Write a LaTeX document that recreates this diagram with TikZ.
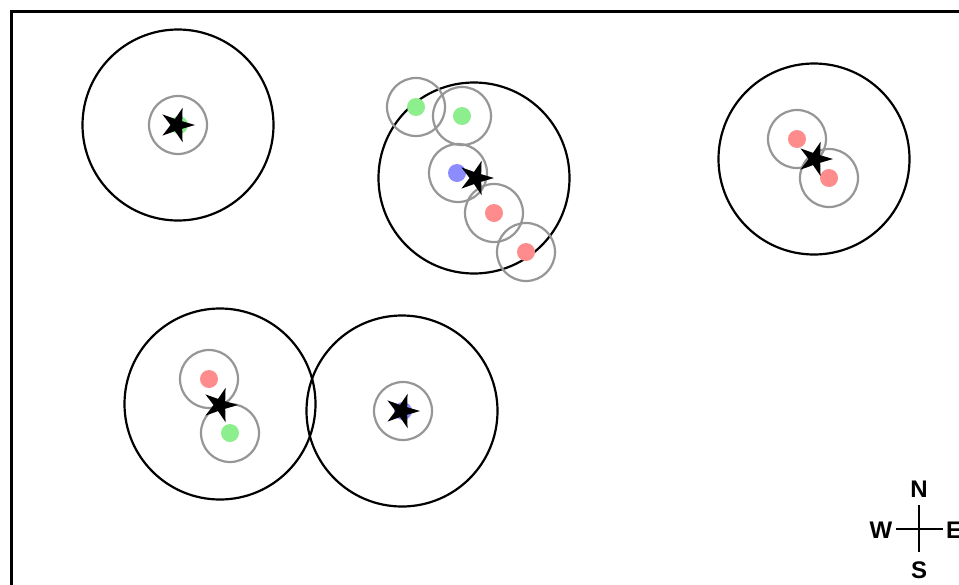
\documentclass[tikz,border=0pt]{standalone}
\usepackage{fontspec}
\setmainfont{Liberation Sans}
\usetikzlibrary{shapes.geometric}
\definecolor{dotred}{RGB}{255,140,140}
\definecolor{dotgreen}{RGB}{140,238,140}
\definecolor{dotblue}{RGB}{140,140,255}
\definecolor{ringgray}{RGB}{150,150,150}
\tikzset{
  bigring/.style={circle,draw=black,line width=2.2pt,minimum size=191pt,inner sep=0pt},
  smallring/.style={circle,draw=ringgray,line width=2.2pt,minimum size=58pt,inner sep=0pt},
  dotnode/.style={circle,fill=#1,minimum size=18pt,inner sep=0pt},
  starnode/.style={star,star points=5,star point ratio=2.8,fill=black,minimum size=36pt,inner sep=0pt,rotate=-18},
  compasslabel/.style={font=\bfseries\fontsize{24}{24}\selectfont,inner sep=0pt},
  compassline/.style={line width=2.2pt,black}
}
\begin{document}
\begin{tikzpicture}[x=1pt,y=-1pt]
\useasboundingbox (0,0) rectangle (959,584);
\clip (0,0) rectangle (959,584);
% frame running off the right and bottom edges
\draw[line width=2.6pt] (11.3,600) -- (11.3,11.3) -- (1000,11.3);

% group 1
\node[bigring] (c1) at (178,125) {};
\node[smallring] (r11) at (178,125) {};
\node[dotnode=dotgreen] (d11) at (179,125) {};
\node[starnode] (s1) at (177,125) {};

% group 2
\node[bigring] (c2) at (474,178) {};
\node[smallring] (r21) at (416,107) {};
\node[dotnode=dotgreen] (d21) at (416,107) {};
\node[smallring] (r22) at (462,116) {};
\node[dotnode=dotgreen] (d22) at (462,116) {};
\node[smallring] (r23) at (458,173) {};
\node[dotnode=dotblue] (d23) at (457,173) {};
\node[smallring] (r24) at (494,213) {};
\node[dotnode=dotred] (d24) at (494,213) {};
\node[smallring] (r25) at (526,252) {};
\node[dotnode=dotred] (d25) at (526,252) {};
\node[starnode] (s2) at (476,178) {};

% group 3
\node[bigring] (c3) at (814,159) {};
\node[smallring] (r31) at (797,139) {};
\node[dotnode=dotred] (d31) at (797,139) {};
\node[smallring] (r32) at (829,178) {};
\node[dotnode=dotred] (d32) at (829,178) {};
\node[starnode] (s3) at (815,159) {};

% group 4
\node[bigring] (c4) at (220,404) {};
\node[smallring] (r41) at (209,379) {};
\node[dotnode=dotred] (d41) at (209,379) {};
\node[smallring] (r42) at (230,433) {};
\node[dotnode=dotgreen] (d42) at (230,433) {};
\node[starnode] (s4) at (220,405) {};

% group 5
\node[bigring] (c5) at (402,411) {};
\node[smallring] (r51) at (403,411) {};
\node[dotnode=dotblue] (d51) at (403,411) {};
\node[starnode] (s5) at (402,411) {};

% compass rose
\coordinate (cn) at (919,505);
\coordinate (cs) at (919,552);
\coordinate (cw) at (896,529);
\coordinate (ce) at (943,529);
\draw[compassline] (cn) -- (cs);
\draw[compassline] (cw) -- (ce);
\node[compasslabel] (lN) at (919,489) {N};
\node[compasslabel] (lS) at (919,570) {S};
\node[compasslabel] (lW) at (881,530) {W};
\node[compasslabel,anchor=west] (lE) at (946,530) {E};
\end{tikzpicture}
\end{document}
